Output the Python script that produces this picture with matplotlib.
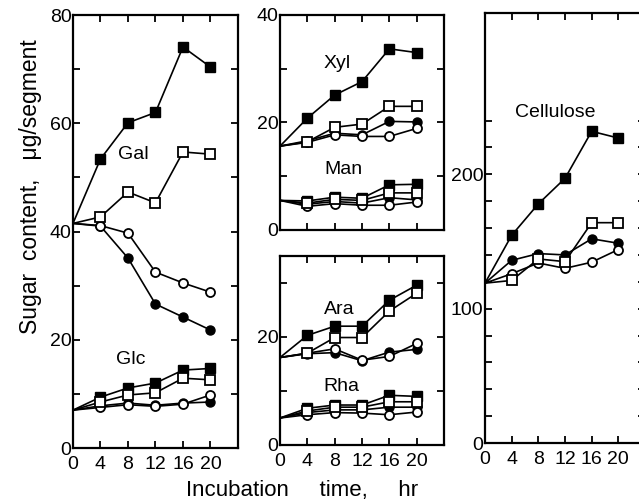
"""sugar content of segments vs incubation time, four treatments"""

import matplotlib
matplotlib.use('Agg')
import matplotlib.pyplot as plt

plt.rcParams['font.family'] = ['Liberation Sans', 'DejaVu Sans']

hours = [0, 4, 8, 12, 16, 20]

# fsq = filled square, osq = open square, fci = filled circle, oci = open circle
gal_fsq = [41.5, 53.4, 60.1, 62.0, 74.1, 70.4]
gal_osq = [41.5, 42.7, 47.3, 45.3, 54.7, 54.3]
gal_fci = [41.5, 41.0, 35.1, 26.6, 24.2, 21.8]
gal_oci = [41.5, 41.1, 39.7, 32.5, 30.5, 28.8]

glc_fsq = [7.0, 9.4, 11.1, 12.0, 14.4, 14.7]
glc_osq = [7.0, 8.5, 9.8, 10.2, 12.9, 12.6]
glc_fci = [7.0, 7.8, 8.3, 7.9, 8.3, 8.5]
glc_oci = [7.0, 7.5, 8.0, 7.7, 8.1, 9.8]

xyl_fsq = [15.6, 20.8, 25.1, 27.6, 33.7, 33.0]
xyl_osq = [15.6, 16.4, 19.1, 19.7, 23.0, 23.0]
xyl_fci = [15.6, 16.6, 18.0, 17.7, 20.2, 20.1]
xyl_oci = [15.6, 16.3, 17.7, 17.4, 17.4, 18.9]

man_fsq = [5.5, 5.4, 6.1, 5.9, 8.4, 8.5]
man_osq = [5.5, 5.0, 5.7, 5.5, 6.9, 6.9]
man_fci = [5.5, 4.8, 5.3, 5.0, 6.0, 5.6]
man_oci = [5.5, 4.4, 4.9, 4.6, 4.6, 5.2]

ara_fsq = [16.2, 20.3, 22.0, 22.0, 26.8, 29.6]
ara_osq = [16.2, 17.0, 19.9, 19.9, 24.8, 28.1]
ara_fci = [16.2, 16.9, 17.1, 15.6, 17.2, 17.7]
ara_oci = [16.2, 17.0, 17.8, 15.7, 16.4, 18.8]

rha_fsq = [5.0, 6.8, 7.4, 7.4, 9.2, 9.0]
rha_osq = [5.0, 6.3, 7.0, 7.0, 8.0, 8.0]
rha_fci = [5.0, 6.0, 6.5, 6.5, 7.0, 7.0]
rha_oci = [5.0, 5.6, 6.0, 5.9, 5.6, 6.1]

cel_fsq = [119, 154.6, 178, 197, 232, 227]
cel_osq = [119, 121, 137, 135, 164, 164]
cel_fci = [119, 136, 141, 140, 152, 148.7]
cel_oci = [119, 126, 134, 130, 134.6, 144]

xticks = [0, 4, 8, 12, 16, 20]


def plt_group(ax, fsq, osq, fci, oci):
    # filled first so the open markers sit on top where they overlap
    kw = dict(color='black', lw=1.2, markevery=slice(1, None), markersize=6.5)
    ax.plot(hours, fci, marker='o', mfc='black', **kw)
    ax.plot(hours, oci, marker='o', mfc='white', mew=1.3, **kw)
    ax.plot(hours, fsq, marker='s', mfc='black', **kw)
    ax.plot(hours, osq, marker='s', mfc='white', mew=1.3, **kw)


def style(ax, ymax, major, minor, xlabels=True, minor_top=None):
    ax.set_xlim(0, 24)
    ax.set_ylim(0, ymax)
    ax.set_xticks(xticks)
    if not xlabels:
        ax.set_xticklabels([])
    ax.set_yticks(major)
    top = ymax if minor_top is None else minor_top
    ax.set_yticks([v for v in range(0, int(top) + 1, minor) if v not in major], minor=True)
    ax.tick_params(which='both', direction='in', top=True, right=True,
                   labelsize=14, width=1.3, length=5)
    ax.tick_params(axis='y', pad=1)
    ax.tick_params(axis='x', pad=6)
    for s in ax.spines.values():
        s.set_linewidth(1.6)


fig = plt.figure(figsize=(6.39, 5.04), dpi=100)

ax1 = fig.add_axes([0.1142, 0.1111, 0.2582, 0.859])
plt_group(ax1, gal_fsq, gal_osq, gal_fci, gal_oci)
plt_group(ax1, glc_fsq, glc_osq, glc_fci, glc_oci)
style(ax1, 80, [0, 20, 40, 60, 80], 10)
ax1.text(8.8, 54.2, 'Gal', fontsize=14, ha='center', va='center')
ax1.text(8.4, 16.3, 'Glc', fontsize=14, ha='center', va='center')

ax2 = fig.add_axes([0.4382, 0.5437, 0.2567, 0.4266])
plt_group(ax2, xyl_fsq, xyl_osq, xyl_fci, xyl_oci)
plt_group(ax2, man_fsq, man_osq, man_fci, man_oci)
style(ax2, 40, [0, 20, 40], 10, xlabels=False)
ax2.text(8.4, 31, 'Xyl', fontsize=14, ha='center', va='center')
ax2.text(9.3, 11.2, 'Man', fontsize=14, ha='center', va='center')

ax3 = fig.add_axes([0.4382, 0.1171, 0.2567, 0.375])
plt_group(ax3, ara_fsq, ara_osq, ara_fci, ara_oci)
plt_group(ax3, rha_fsq, rha_osq, rha_fci, rha_oci)
style(ax3, 35, [0, 20], 10)
ax3.text(8.7, 25.1, 'Ara', fontsize=14, ha='center', va='center')
ax3.text(9.0, 10.8, 'Rha', fontsize=14, ha='center', va='center')

ax4 = fig.add_axes([0.759, 0.121, 0.2504, 0.853])
plt_group(ax4, cel_fsq, cel_osq, cel_fci, cel_oci)
style(ax4, 320, [0, 100, 200], 20, minor_top=240)
ax4.text(10.5, 246, 'Cellulose', fontsize=14, ha='center', va='center')

fig.text(0.047, 0.629, 'Sugar  content,   \u03bcg/segment', rotation=90,
         fontsize=16.5, ha='center', va='center')
fig.text(0.472, 0.026, 'Incubation     time,     hr', fontsize=16,
         ha='center', va='center')

fig.savefig('out.png', dpi=100)
